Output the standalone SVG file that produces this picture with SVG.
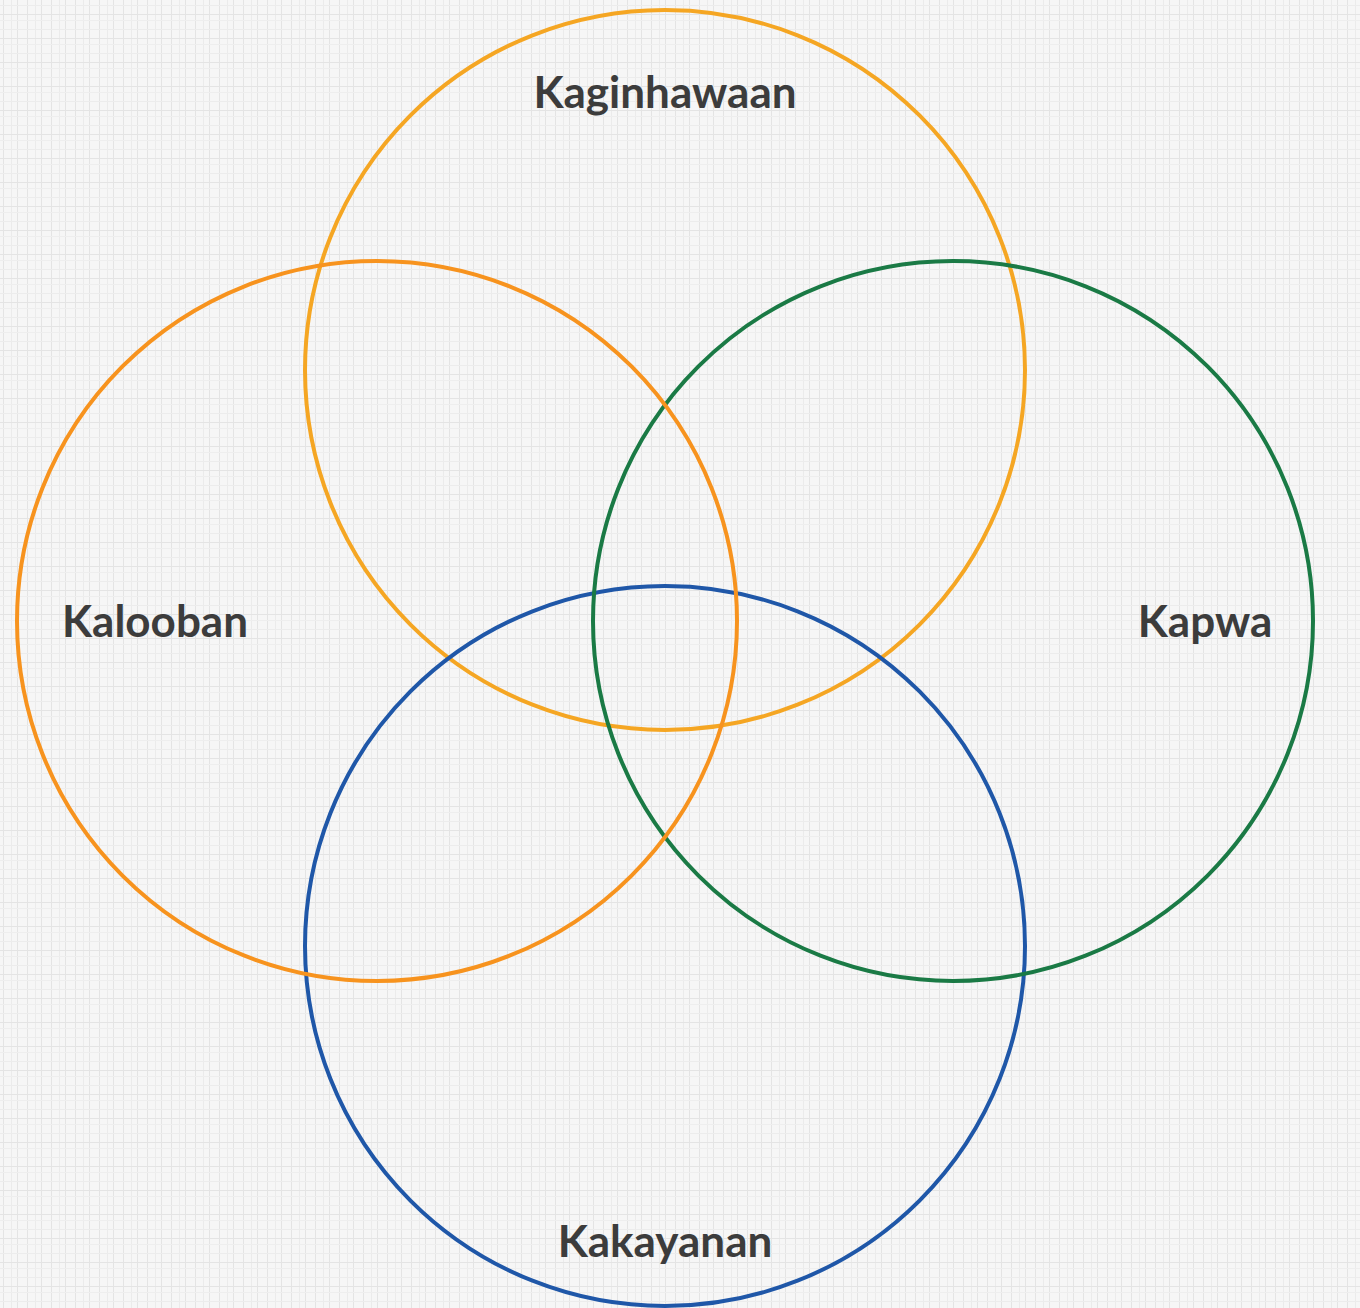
<svg xmlns="http://www.w3.org/2000/svg" width="1360" height="1308" viewBox="0 0 1360 1308">
<defs>
<pattern id="tex" x="0" y="0" width="24" height="24" patternUnits="userSpaceOnUse">
<rect width="24" height="24" fill="#f6f6f6"/>
<g stroke="#e4e4e4" stroke-width="1">
<line x1="3.5" y1="0" x2="3.5" y2="24"/>
<line x1="11.5" y1="0" x2="11.5" y2="24" stroke="#ebebeb"/>
<line x1="17.5" y1="0" x2="17.5" y2="24"/>
<line x1="0" y1="5.5" x2="24" y2="5.5" stroke="#ececec"/>
<line x1="0" y1="14.5" x2="24" y2="14.5"/>
<line x1="0" y1="20.5" x2="24" y2="20.5" stroke="#eeeeee"/>
</g>
</pattern>
<style>
.c{fill:none;stroke-width:4}
.t{font-family:Lato,"Noto Sans",sans-serif;font-weight:bold;font-size:44px;fill:#3c3c3c;text-anchor:middle}
</style>
</defs>
<rect width="1360" height="1308" fill="url(#tex)"/>
<g id="kaginhawaan"><circle class="c" cx="665" cy="370" r="360" stroke="#F5A623"/><text class="t" x="665" y="108">Kaginhawaan</text></g>
<g id="kakayanan"><circle class="c" cx="665" cy="946" r="360" stroke="#1F57A8"/><text class="t" x="665" y="1257">Kakayanan</text></g>
<g id="kapwa"><circle class="c" cx="953" cy="621" r="360" stroke="#1A7A45"/><text class="t" x="1205" y="637">Kapwa</text></g>
<g id="kalooban"><circle class="c" cx="377" cy="621" r="360" stroke="#F7931E"/><text class="t" x="155" y="637">Kalooban</text></g>
<g id="connectors"></g>
</svg>
